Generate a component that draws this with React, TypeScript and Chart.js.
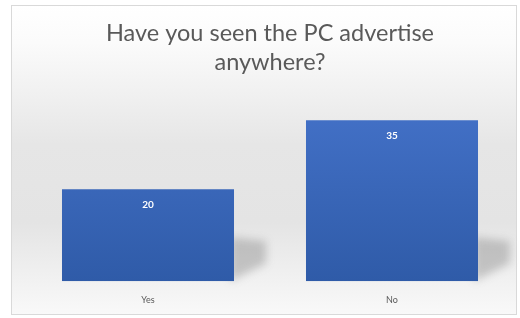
import React, { useEffect, useRef } from "react";
import { Chart, registerables } from "chart.js";

Chart.register(...registerables);

const categories = ["Yes", "No"];
const values = [20, 35];
const titleLines = ["Have you seen the PC advertise", "anywhere?"];

const backgroundPlugin = {
  id: "bgPlugin",
  beforeDraw(chart: any) {
    const { ctx, width, height } = chart;
    ctx.save();
    ctx.fillStyle = "#ffffff";
    ctx.fillRect(0, 0, width, height);
    const x0 = 11, y0 = 5, x1 = width - 3, y1 = height - 3;
    const g = ctx.createLinearGradient(0, y0, 0, y1);
    g.addColorStop(0, "#ffffff");
    g.addColorStop(0.12, "#fbfbfb");
    g.addColorStop(0.45, "#e6e6e6");
    g.addColorStop(0.7, "#e4e4e4");
    g.addColorStop(1, "#f9f9f9");
    ctx.fillStyle = g;
    ctx.fillRect(x0, y0, x1 - x0, y1 - y0);
    ctx.strokeStyle = "#d9d9d9";
    ctx.lineWidth = 1;
    ctx.strokeRect(x0 + 0.5, y0 + 0.5, x1 - x0 - 1, y1 - y0 - 1);
    ctx.restore();
  },
  beforeDatasetsDraw(chart: any) {
    const { ctx } = chart;
    const meta = chart.getDatasetMeta(0);
    ctx.save();
    ctx.filter = "blur(4px)";
    ctx.fillStyle = "rgba(70,70,70,0.26)";
    meta.data.forEach((bar: any) => {
      const right = bar.x + bar.width / 2;
      const bottom = bar.base;
      ctx.beginPath();
      ctx.moveTo(right - 4, bottom - 44);
      ctx.lineTo(right + 32, bottom - 40);
      ctx.lineTo(right + 32, bottom - 18);
      ctx.lineTo(right - 4, bottom);
      ctx.closePath();
      ctx.fill();
    });
    ctx.restore();
  },
  afterDatasetsDraw(chart: any) {
    const { ctx } = chart;
    const meta = chart.getDatasetMeta(0);
    ctx.save();
    ctx.fillStyle = "#ffffff";
    ctx.font = "bold 10px Lato";
    ctx.textAlign = "center";
    ctx.textBaseline = "middle";
    meta.data.forEach((bar: any, i: number) => {
      ctx.fillText(String(values[i]), bar.x, bar.y + 16);
    });
    ctx.restore();
  },
};

export default function App() {
  const ref = useRef<HTMLCanvasElement | null>(null);
  useEffect(() => {
    if (!ref.current) return;
    const chart = new Chart(ref.current, {
      type: "bar",
      data: {
        labels: categories,
        datasets: [
          {
            data: values,
            backgroundColor: (c: any) => {
              const area = c.chart.chartArea;
              if (!area) return "#3b66b8";
              const g = c.chart.ctx.createLinearGradient(0, area.top, 0, area.bottom);
              g.addColorStop(0, "#4472c9");
              g.addColorStop(1, "#2f5ba8");
              return g;
            },
            borderWidth: 0,
            categoryPercentage: 1,
            barPercentage: 0.705,
          },
        ],
      },
      options: {
        responsive: false,
        animation: false,
        layout: { padding: { top: 19, left: 26, right: 6, bottom: 8 } },
        plugins: {
          legend: { display: false },
          tooltip: { enabled: false },
          title: {
            display: true,
            text: titleLines,
            color: "#595959",
            font: { family: "Lato", size: 23.5, weight: "normal", lineHeight: 1.24 },
            padding: { top: 0, bottom: 20 },
          },
        },
        scales: {
          x: {
            grid: { display: false },
            border: { display: false },
            ticks: { color: "#595959", font: { family: "Lato", size: 9 }, padding: 5 },
          },
          y: {
            display: false,
            min: 0,
            max: 40,
          },
        },
      },
      plugins: [backgroundPlugin],
    });
    return () => chart.destroy();
  }, []);
  return (
    <div style={{ position: "fixed", left: 0, top: 0, width: 520, height: 318 }}>
      <canvas ref={ref} width={520} height={318} style={{ display: "block", width: 520, height: 318 }} />
    </div>
  );
}
